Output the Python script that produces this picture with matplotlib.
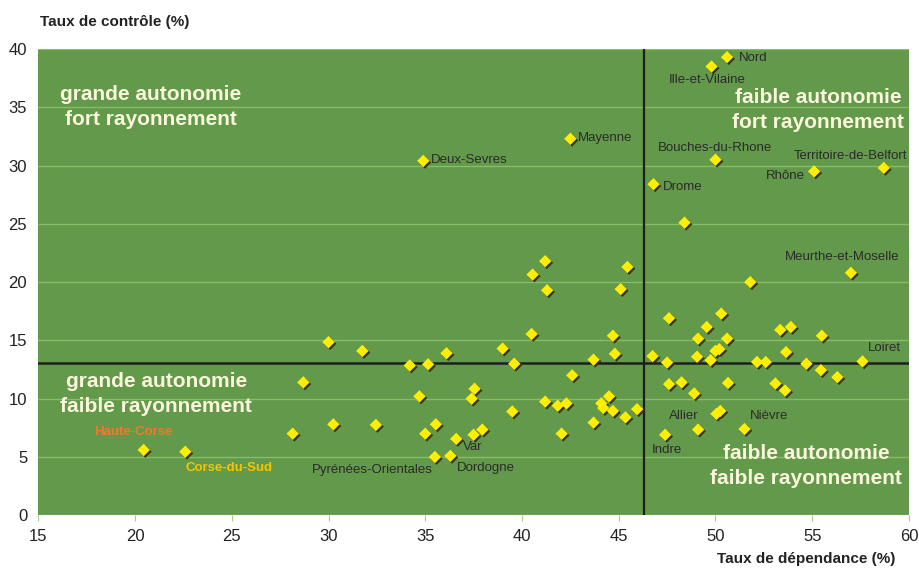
import matplotlib.pyplot as plt
import matplotlib.patheffects as pe

plt.rcParams['font.family'] = ['Liberation Sans', 'DejaVu Sans']

# Departements (taux de dependance %, taux de controle %)
# points with a name label
named = ['Nord', 'Ille-et-Vilaine', 'Mayenne', 'Deux-Sevres', 'Bouches-du-Rhone',
         'Territoire-de-Belfort', 'Rhône', 'Drome', 'Meurthe-et-Moselle', 'Loiret',
         'Allier', 'Indre', 'Nièvre', 'Var', 'Dordogne', 'Pyrénées-Orientales',
         'Haute-Corse', 'Corse-du-Sud']
named_x = [50.6, 49.8, 42.5, 34.9, 50.0, 58.7, 55.1, 46.8, 57.0, 57.6,
           49.1, 47.4, 51.5, 36.6, 36.3, 35.5, 20.45, 22.6]
named_y = [39.3, 38.5, 32.3, 30.4, 30.5, 29.8, 29.5, 28.4, 20.8, 13.2,
           7.35, 6.9, 7.4, 6.55, 5.1, 5.0, 5.6, 5.45]

# other departements (no label)
other_x = [48.4, 41.2, 40.55, 41.3, 45.45, 45.1, 47.6, 40.5, 44.7, 30.0,
           31.75, 36.1, 39.0, 44.8, 34.2, 35.15, 39.6, 43.7, 46.75, 47.5,
           28.7, 42.6, 47.6, 37.55, 34.7, 37.4, 44.5, 41.2, 41.85, 42.3,
           44.1, 44.2, 44.7, 45.35, 45.95, 39.5, 43.7, 42.05, 28.15, 30.25,
           32.45, 35.0, 35.55, 37.5, 37.95, 51.8, 50.3, 49.55, 49.1, 50.6,
           53.35, 53.9, 55.5, 49.05, 49.75, 50.0, 50.2, 52.15, 52.6, 53.65,
           54.7, 55.45, 56.3, 48.25, 48.9, 50.65, 53.1, 53.6, 50.05, 50.25]
other_y = [25.1, 21.8, 20.65, 19.3, 21.3, 19.4, 16.9, 15.55, 15.4, 14.85,
           14.1, 13.9, 14.3, 13.85, 12.85, 12.95, 13.0, 13.35, 13.65, 13.1,
           11.4, 12.0, 11.25, 10.85, 10.2, 10.0, 10.2, 9.75, 9.4, 9.6,
           9.6, 9.2, 8.95, 8.4, 9.1, 8.9, 7.95, 7.0, 7.0, 7.8,
           7.75, 7.0, 7.8, 6.9, 7.35, 20.0, 17.3, 16.15, 15.15, 15.15,
           15.9, 16.15, 15.4, 13.6, 13.3, 14.1, 14.25, 13.15, 13.15, 14.0,
           13.0, 12.45, 11.85, 11.4, 10.45, 11.35, 11.3, 10.7, 8.7, 8.95]

x_split = 46.3
y_split = 13.1

quadrants = ['grande autonomie\nfort rayonnement', 'faible autonomie\nfort rayonnement',
             'grande autonomie\nfaible rayonnement', 'faible autonomie\nfaible rayonnement']

# label offsets in pixels (dx, dy, ha)
label_pos = {
    'Nord': (12, -1, 'left'), 'Ille-et-Vilaine': (-4, -13, 'center'),
    'Mayenne': (8, 1, 'left'), 'Deux-Sevres': (8, 1, 'left'),
    'Bouches-du-Rhone': (0, 12, 'center'), 'Territoire-de-Belfort': (23, 12, 'right'),
    'Rhône': (-9, -5, 'right'), 'Drome': (9, -3, 'left'),
    'Meurthe-et-Moselle': (49, 16, 'right'), 'Loiret': (5, 13, 'left'),
    'Allier': (-14, 14, 'center'), 'Indre': (2, -15, 'center'),
    'Nièvre': (5, 13, 'left'), 'Var': (7, -8, 'left'),
    'Dordogne': (6, -12, 'left'), 'Pyrénées-Orientales': (-2, -13, 'right'),
    'Haute-Corse': (-10, 18, 'center'), 'Corse-du-Sud': (0, -16, 'left'),
}
label_color = {'Haute-Corse': '#f07b2a', 'Corse-du-Sud': '#f5c400'}

fig = plt.figure(figsize=(9.2, 5.74), dpi=100)
ax = fig.add_axes([0.0416, 0.1023, 0.9464, 0.8123])
ax.set_facecolor('#62994a')
for s in ax.spines.values():
    s.set_visible(False)

ax.set_xlim(15, 60)
ax.set_ylim(0, 40)
ax.set_xticks(range(15, 61, 5))
ax.set_yticks(range(0, 41, 5))
ax.grid(axis='y', color='#86bd66', linewidth=1)
ax.set_axisbelow(True)
ax.tick_params(axis='x', length=4, color='#9fd080', labelsize=12, labelcolor='#222222', pad=6)
ax.tick_params(axis='y', length=0, labelsize=12, labelcolor='#222222', pad=8)

ax.axvline(x_split, color='#1e1e1e', linewidth=1.6)
ax.axhline(y_split, color='#1e1e1e', linewidth=1.8)

shadow = [pe.SimplePatchShadow(offset=(1.2, -1.2), shadow_rgbFace='#2a2a10', alpha=0.9), pe.Normal()]
ax.scatter(other_x + named_x, other_y + named_y, marker='D', s=40, color='#ffee00',
           linewidths=0, zorder=4, path_effects=shadow)

for name, x, y in zip(named, named_x, named_y):
    dx, dy, ha = label_pos[name]
    corse = name in label_color
    ax.annotate(name, (x, y), xytext=(dx, dy), textcoords='offset pixels',
                ha=ha, va='center', fontsize=9.5, color=label_color.get(name, '#2b2b2b'),
                fontweight='bold' if corse else 'normal', zorder=5)

q_xy = [(20.8, 35.05), (55.3, 34.8), (21.1, 10.4), (54.7, 4.2)]
for txt, (qx, qy) in zip(quadrants, q_xy):
    ax.text(qx, qy, txt, ha='center', va='center', fontsize=15, fontweight='bold',
            color='#fbf6dc', linespacing=1.4, zorder=5)

fig.text(0.0435, 0.962, 'Taux de contrôle (%)', fontsize=11, fontweight='bold',
         color='#222222', va='center')
fig.text(0.973, 0.014, 'Taux de dépendance (%)', fontsize=11, fontweight='bold',
         color='#222222', ha='right', va='bottom')

fig.savefig('out.png', dpi=100, facecolor='white')
